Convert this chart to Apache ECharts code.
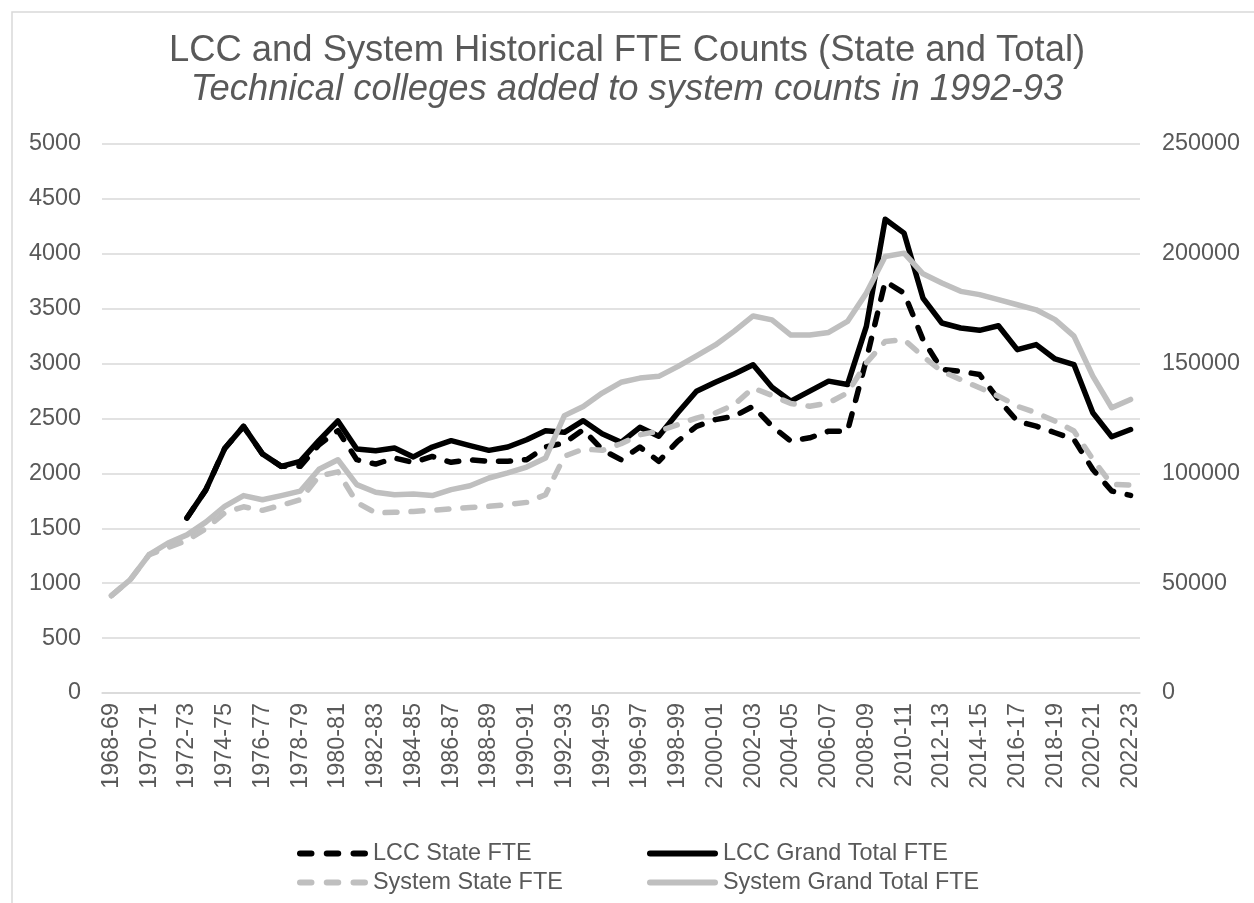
<!DOCTYPE html>
<html style="height: 100%">
<head>
  <meta charset="utf-8">
  <script src="https://cdn.jsdelivr.net/npm/echarts@6/dist/echarts.min.js"></script>
</head>
<body style="height: 100%; margin: 0; background: #fff">
<div id="container" style="width: 1254px; height: 903px;"></div>
<script type="text/javascript">
var categories = [
  '1968-69','1969-70','1970-71','1971-72','1972-73','1973-74','1974-75','1975-76','1976-77','1977-78',
  '1978-79','1979-80','1980-81','1981-82','1982-83','1983-84','1984-85','1985-86','1986-87','1987-88',
  '1988-89','1989-90','1990-91','1991-92','1992-93','1993-94','1994-95','1995-96','1996-97','1997-98',
  '1998-99','1999-00','2000-01','2001-02','2002-03','2003-04','2004-05','2005-06','2006-07','2007-08',
  '2008-09','2009-10','2010-11','2011-12','2012-13','2013-14','2014-15','2015-16','2016-17','2017-18',
  '2018-19','2019-20','2020-21','2021-22','2022-23'
];

// LCC (left axis)
var lccState = [
  null, null, null, null, 1594, 1850, 2226, 2428, 2178, 2064,
  2064, 2261, 2390, 2125, 2085, 2140, 2100, 2155, 2101, 2125,
  2110, 2110, 2125, 2240, 2277, 2398, 2216, 2125, 2240, 2110,
  2292, 2429, 2490, 2520, 2611, 2430, 2294, 2324, 2385, 2385,
  3036, 3749, 3642, 3218, 2946, 2930, 2900, 2673, 2476, 2430,
  2370, 2309, 2036, 1840, 1800
];
var lccTotal = [
  null, null, null, null, 1594, 1850, 2226, 2428, 2178, 2064,
  2109, 2300, 2478, 2222, 2207, 2231, 2150, 2240, 2298, 2253,
  2210, 2240, 2307, 2389, 2374, 2480, 2362, 2283, 2420, 2338,
  2550, 2748, 2830, 2905, 2990, 2785, 2658, 2749, 2840, 2809,
  3339, 4315, 4188, 3597, 3370, 3324, 3303, 3345, 3127, 3173,
  3042, 2991, 2552, 2334, 2400
];

// System (right axis)
var sysState = [
  44300, 51600, 63000, 66300, 69500, 74800, 82000, 84800, 83200, 85500,
  88000, 98800, 100700, 86800, 82000, 82300, 82700, 83200, 83900, 84500,
  85000, 85800, 86800, 90300, 107800, 111100, 110500, 113500, 117600, 119200,
  122200, 125200, 127500, 131300, 138900, 135500, 131800, 130600, 132100, 136700,
  150300, 160100, 160900, 153300, 146500, 142700, 139000, 135200, 130600, 127600,
  123800, 119300, 106400, 95000, 94700
];
var sysTotal = [
  44300, 51600, 63000, 68300, 72000, 77800, 85000, 89900, 88000, 89900,
  91900, 101900, 106200, 94900, 91400, 90300, 90600, 89900, 92600, 94400,
  97900, 100200, 102900, 107000, 126300, 130500, 136600, 141500, 143400, 144200,
  148600, 153500, 158500, 164800, 171700, 169900, 163000, 163000, 164200, 169200,
  182100, 198800, 200300, 190900, 186700, 182900, 181400, 179100, 176800, 174500,
  170000, 162500, 144300, 129900, 133700
];

var textColor = '#595959';
var gridColor = '#D9D9D9';
var font = 'Liberation Sans, Arial, sans-serif';
var dash = [12, 14];

// legend swatches: three rounded dashes, or one rounded bar
var dashIcon = 'path://M3,0 L14,0 A3,3 0 0 1 14,6 L3,6 A3,3 0 0 1 3,0 Z ' +
  'M29,0 L40,0 A3,3 0 0 1 40,6 L29,6 A3,3 0 0 1 29,0 Z ' +
  'M55,0 L66,0 A3,3 0 0 1 66,6 L55,6 A3,3 0 0 1 55,0 Z';
var solidIcon = 'path://M3,0 L66,0 A3,3 0 0 1 66,6 L3,6 A3,3 0 0 1 3,0 Z';

var chart = echarts.init(document.getElementById('container'));

function legendAt(name, icon, left, top) {
  return {
    data: [{name: name, icon: icon}],
    left: left,
    top: top,
    itemWidth: 71,
    itemHeight: 6,
    itemGap: 0,
    symbolKeepAspect: false,
    itemStyle: {borderWidth: 0},
    textStyle: {color: textColor, fontSize: 23.4, fontFamily: font}
  };
}

var option = {
  backgroundColor: '#fff',
  animation: false,
  title: {
    text: 'LCC and System Historical FTE Counts (State and Total)',
    subtext: 'Technical colleges added to system counts in 1992-93',
    left: 'center',
    top: 28,
    itemGap: 3,
    textStyle: {color: textColor, fontSize: 36.4, fontWeight: 'normal', fontFamily: font},
    subtextStyle: {color: textColor, fontSize: 36.4, fontStyle: 'italic', fontFamily: font}
  },
  graphic: [{
    type: 'polyline',
    shape: {points: [[12, 903], [12, 12], [1254, 12]]},
    style: {stroke: gridColor, lineWidth: 1.5, fill: null}
  }],
  legend: [
    legendAt('LCC State FTE', dashIcon, 292, 837),
    legendAt('LCC Grand Total FTE', solidIcon, 642, 837),
    legendAt('System State FTE', dashIcon, 292, 866),
    legendAt('System Grand Total FTE', solidIcon, 642, 866)
  ],
  grid: {left: 102, right: 114, top: 144, bottom: 210},
  xAxis: {
    type: 'category',
    data: categories,
    boundaryGap: true,
    axisLine: {lineStyle: {color: gridColor, width: 1.5}},
    axisTick: {show: false},
    axisLabel: {rotate: 90, interval: 1, margin: 10, color: textColor, fontSize: 23.4, fontFamily: font}
  },
  yAxis: [
    {
      type: 'value', min: 0, max: 5000, interval: 500,
      axisLine: {show: false}, axisTick: {show: false},
      splitLine: {lineStyle: {color: gridColor, width: 1.5}},
      axisLabel: {margin: 21, color: textColor, fontSize: 23.4, fontFamily: font,
        formatter: function (v) { return String(v); }}
    },
    {
      type: 'value', min: 0, max: 250000, interval: 50000,
      axisLine: {show: false}, axisTick: {show: false},
      splitLine: {show: false},
      axisLabel: {margin: 22, color: textColor, fontSize: 23.4, fontFamily: font,
        formatter: function (v) { return String(v); }}
    }
  ],
  series: [
    {
      name: 'LCC State FTE', type: 'line', yAxisIndex: 0, data: lccState,
      symbol: 'none', color: '#000000',
      lineStyle: {color: '#000000', width: 5.5, type: dash, cap: 'round', join: 'round'}
    },
    {
      name: 'LCC Grand Total FTE', type: 'line', yAxisIndex: 0, data: lccTotal,
      symbol: 'none', color: '#000000',
      lineStyle: {color: '#000000', width: 5.5, cap: 'round', join: 'round'}
    },
    {
      name: 'System State FTE', type: 'line', yAxisIndex: 1, data: sysState,
      symbol: 'none', color: '#BFBFBF',
      lineStyle: {color: '#BFBFBF', width: 5.5, type: dash, cap: 'round', join: 'round'}
    },
    {
      name: 'System Grand Total FTE', type: 'line', yAxisIndex: 1, data: sysTotal,
      symbol: 'none', color: '#BFBFBF',
      lineStyle: {color: '#BFBFBF', width: 5.5, cap: 'round', join: 'round'}
    }
  ]
};

chart.setOption(option);
</script>
</body>
</html>
